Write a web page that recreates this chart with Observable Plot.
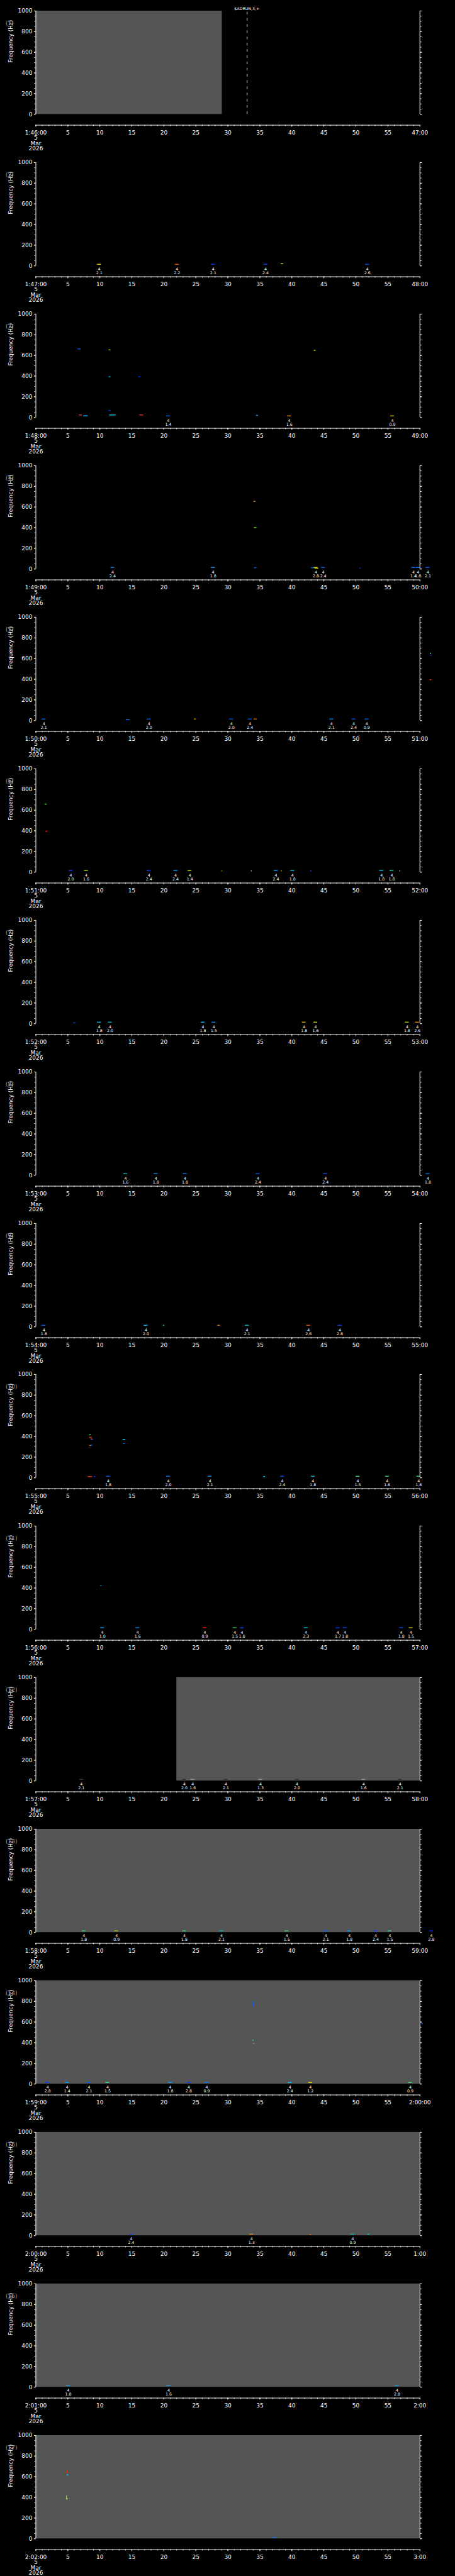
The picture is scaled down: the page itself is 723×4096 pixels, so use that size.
<!DOCTYPE html>
<html><head><meta charset="utf-8">
<script src="https://cdn.jsdelivr.net/npm/d3@7"></script>
<script src="https://cdn.jsdelivr.net/npm/@observablehq/plot@0.6"></script>
<style>
html,body{margin:0;padding:0;background:#000;}
#chart svg{display:block;}
</style>
</head><body><div id="chart"></div>
<script>
const S = 723 / 1024;
const PANEL_H = 4096 / 17;

// x-axis labels per panel (seconds 0..60 within each minute)
const startLabels = ["1:46:00","1:47:00","1:48:00","1:49:00","1:50:00","1:51:00","1:52:00","1:53:00","1:54:00","1:55:00","1:56:00","1:57:00","1:58:00","1:59:00","2:00:00","2:01:00","2:02:00"];
const endLabels = ["47:00","48:00","49:00","50:00","51:00","52:00","53:00","54:00","55:00","56:00","57:00","58:00","59:00","2:00:00","1:00","2:00","3:00"];
const dateLines = ["5", "Mar", "2026"];
const timeMajor = [0,5,10,15,20,25,30,35,40,45,50,55,60];
const timeMinor = d3.range(0, 61, 1);
const freqMajor = [0,200,400,600,800,1000];
const freqMinor = d3.range(0, 1001, 50);

// data gaps (grey fill): [panel, start s, end s]
const gaps = [[1,0,29.1],[12,22.0,60],[13,0,60],[14,0,60],[15,0,60],[16,0,60],[17,0,60]];

// marker line + annotation: [panel, t, label start t, text]
const markers = [[1, 33.0, 31.0, "$ADRUN,3,+"]];

// labelled events: [panel, t (s), value, bar colour]
const events = [
  [2,9.9,"2.1","#e8e000"],[2,22.05,"2.2","#ff5000"],[2,27.7,"2.1","#0040ff"],[2,35.9,"2.4","#0050ff"],[2,51.8,"2.6","#0050ff"],
  [3,20.7,"1.4","#0070ff"],[3,39.6,"1.6","#ff9000"],[3,55.7,"0.9","#e0c000"],
  [4,12.0,"2.4","#0080ff"],[4,27.7,"1.8","#00a0ff"],[4,43.75,"2.8","#e0e000"],[4,44.9,"2.4","#0060ff"],[4,59.0,"1.4","#0080ff"],[4,59.7,"1.8","#0080ff"],[4,61.25,"2.1","#0060ff"],
  [5,1.25,"2.1","#0080ff"],[5,17.67,"2.0","#0060ff"],[5,30.55,"2.0","#0060ff"],[5,33.45,"2.4","#0060ff"],[5,46.2,"2.1","#00a0ff"],[5,49.65,"2.4","#0060ff"],[5,51.7,"0.9","#0080ff"],
  [6,5.47,"2.0","#0040ff"],[6,7.87,"1.6","#a0e000"],[6,17.67,"2.4","#0040ff"],[6,21.84,"2.4","#00a0ff"],[6,24.06,"1.4","#c0e000"],[6,37.5,"2.4","#00a0ff"],[6,40.1,"1.8","#00c0ff"],[6,54.0,"1.8","#00c0ff"],[6,55.6,"1.8","#00d0c0"],
  [7,9.9,"1.8","#00c0ff"],[7,11.6,"2.0","#00c0e0"],[7,26.1,"1.8","#00c0ff"],[7,27.8,"1.5","#00a0ff"],[7,41.9,"1.8","#e0c000"],[7,43.7,"1.6","#e0e000"],[7,58.0,"1.8","#c0e000"],[7,59.6,"2.6","#ff9000"],
  [8,14.0,"1.6","#00d0c0"],[8,18.75,"1.8","#00a0ff"],[8,23.3,"1.8","#0080ff"],[8,34.7,"2.4","#0060ff"],[8,45.25,"2.4","#0060ff"],[8,61.25,"1.8","#0080ff"],
  [9,1.25,"1.8","#0060ff"],[9,17.2,"2.0","#00c0ff"],[9,33.0,"2.1","#00c0e0"],[9,42.6,"2.6","#ff5000"],[9,47.5,"2.8","#0040ff"],
  [10,11.3,"1.8","#0060ff"],[10,20.7,"2.0","#0080ff"],[10,27.2,"2.1","#00a0ff"],[10,38.5,"2.4","#0060ff"],[10,43.3,"1.8","#00c0e0"],[10,50.3,"1.5","#40e080"],[10,54.9,"1.6","#40e080"],[10,59.8,"1.8","#40e080"],
  [11,10.4,"1.0","#00c0ff"],[11,15.9,"1.6","#00a0ff"],[11,26.4,"0.9","#ff2000"],[11,31.1,"1.5","#40e080"],[11,32.2,"1.8","#0060ff"],[11,42.2,"2.3","#00e0ff"],[11,47.2,"1.7","#0040ff"],[11,48.3,"1.8","#0060ff"],[11,57.1,"1.8","#0060ff"],[11,58.6,"1.5","#e0e000"],
  [12,7.1,"2.1","#3a3a3a"],[12,23.2,"2.0","#2a2a2a"],[12,24.5,"1.6","#9a9a9a"],[12,29.7,"2.1","#2a2a2a"],[12,35.1,"1.3","#9a9a9a"],[12,40.8,"2.0","#2a2a2a"],[12,51.2,"1.6","#9a9a9a"],[12,56.9,"2.1","#2a2a2a"],
  [13,7.5,"1.8","#40e080"],[13,12.6,"0.9","#c0c000"],[13,23.2,"1.8","#40e080"],[13,29.0,"2.1","#00c0c0"],[13,39.2,"1.5","#40e080"],[13,45.3,"2.1","#0060ff"],[13,49.0,"1.8","#00a0ff"],[13,53.1,"2.4","#0040ff"],[13,55.3,"1.5","#40e0a0"],[13,61.8,"2.8","#0040ff"],
  [14,1.84,"2.8","#0040ff"],[14,4.9,"1.4","#00a0ff"],[14,8.3,"2.1","#0060ff"],[14,11.2,"1.5","#40e080"],[14,21.0,"1.8","#00a0ff"],[14,23.9,"2.8","#0040ff"],[14,26.7,"0.9","#0080ff"],[14,39.7,"2.4","#00c0ff"],[14,42.9,"1.2","#e0e000"],[14,58.5,"0.9","#40e080"],
  [15,14.9,"2.4","#0040ff"],[15,33.7,"1.3","#ff9000"],[15,49.5,"0.9","#00c0c0"],
  [16,5.06,"1.8","#00a0ff"],[16,20.75,"1.6","#00a0ff"],[16,56.45,"2.8","#00a0ff"]
];

// unlabelled spectral blips: [panel, t (s), freq (Hz), colour, duration (s)]
const blips = [
  [2,38.5,20,"#ffe000",0.4],
  [3,6.8,663,"#0060ff",0.5],[3,7.0,24,"#ff3030",0.5],[3,7.8,16,"#00c0ff",0.7],[3,11.55,654,"#d0e000",0.3],[3,11.55,393,"#00e0e0",0.3],[3,11.55,67,"#0040ff",0.3],[3,12.0,24,"#00e0ff",1.0],[3,16.2,393,"#0030ff",0.4],[3,16.5,24,"#ff3030",0.6],[3,34.6,20,"#00c0ff",0.3],[3,43.6,650,"#e0e000",0.3],
  [4,34.2,655,"#ff9000",0.3],[4,34.3,400,"#80ff40",0.4],[4,34.3,12,"#0080ff",0.3],[4,43.3,12,"#0080ff",0.5],[4,43.9,8,"#e0e000",0.6],[4,50.7,8,"#0040ff",0.2],
  [5,14.4,8,"#0080ff",0.6],[5,24.9,15,"#ffc000",0.3],[5,34.3,15,"#ff8000",0.5],[5,61.7,650,"#40ff80",0.2],[5,61.75,630,"#0040ff",0.2],[5,61.7,395,"#ff2000",0.3],
  [6,1.6,658,"#40ff40",0.3],[6,1.7,396,"#ff2000",0.3],[6,29.1,12,"#a0a000",0.15],[6,33.7,12,"#a0a0a0",0.15],[6,38.4,12,"#a0a000",0.15],[6,43.0,12,"#4040ff",0.15],[6,56.9,12,"#a0a0a0",0.15],
  [7,6.05,8,"#0060ff",0.3],
  [9,20.0,15,"#00e0ff",0.2],[9,28.6,15,"#ff8000",0.4],
  [10,8.5,420,"#40ff80",0.2],[10,8.5,392,"#ff3000",0.2],[10,8.8,374,"#0060ff",0.4],[10,8.5,312,"#ff8000",0.2],[10,8.7,315,"#0060ff",0.3],[10,8.5,12,"#ff4000",0.7],[10,9.2,12,"#0040ff",0.3],[10,13.8,372,"#00e0ff",0.4],[10,13.8,330,"#0060ff",0.3],[10,35.7,12,"#00e0ff",0.3],
  [11,10.2,425,"#00e0ff",0.15],
  [14,34.0,425,"#00ffff",0.15],[14,34.1,392,"#40ff80",0.15],[14,60.4,585,"#0040ff",0.3],
  [15,42.9,14,"#ff6000",0.3],[15,52.0,15,"#00e0e0",0.3],
  [17,4.9,650,"#ff2000",0.2],[17,5.0,618,"#00e0ff",0.3],[17,4.9,385,"#e0e000",0.3],[17,37.3,12,"#0080ff",0.6]
];

// vertical streaks: [panel, t (s), f1, f2, colour]
const streaks = [
  [10,8.65,365,395,"#ff3000"],
  [14,34.0,745,800,"#0060ff"],
  [17,4.8,380,415,"#80ff40"],[17,4.9,630,660,"#ff2000"]
];

const root = document.getElementById("chart");

function panel(i) {
  const p = i + 1;
  const ev = events.filter(d => d[0] === p);
  const bl = blips.filter(d => d[0] === p);
  const st = streaks.filter(d => d[0] === p);
  const gp = gaps.filter(d => d[0] === p);
  const mk = markers.filter(d => d[0] === p);
  const axisDy = 24.5 * S;
  return Plot.plot({
    width: 723,
    height: PANEL_H,
    marginTop: 24 * S,
    marginBottom: PANEL_H - 256.7 * S,
    marginLeft: 80 * S,
    marginRight: 723 - 944.3 * S,
    style: {background: "#000", color: "#fff", fontFamily: "'DejaVu Sans', sans-serif", fontSize: "9px", overflow: "visible"},
    x: {domain: [0, 60], axis: null},
    y: {domain: [0, 1000], axis: null},
    color: {type: "identity"},
    marks: [
      Plot.rect(gp, {x1: d => d[1], x2: d => d[2], y1: 0, y2: 1000, fill: "#555555"}),
      Plot.ruleY(bl, {x1: d => d[1] - d[4] / 2, x2: d => d[1] + d[4] / 2, y: d => d[2], stroke: d => d[3], strokeWidth: 1.3}),
      Plot.ruleX(st, {x: d => d[1], y1: d => d[2], y2: d => d[3], stroke: d => d[4], strokeWidth: 1.2}),
      Plot.ruleY(ev, {x1: d => d[1] - 0.3, x2: d => d[1] + 0.3, y: 15, stroke: d => d[3], strokeWidth: 1.3}),
      Plot.ruleX(mk, {x: d => d[1], y1: 0, y2: 990, stroke: "#fff", strokeWidth: 1, strokeDasharray: "4.2,5.7"}),
      Plot.text(mk, {x: d => d[2], frameAnchor: "top", text: d => d[3], textAnchor: "start", dy: (15.7 - 24) * S, fontSize: 6.3, fill: "#fff"}),
      // event labels
      Plot.text(ev, {x: d => d[1], y: 0, text: () => "4", dy: 6.8 * S, fontSize: 6.3, fill: "#fff"}),
      Plot.text(ev, {x: d => d[1], y: 0, text: d => d[2], dy: 16.2 * S, fontSize: 6.3, fill: "#fff"}),
      // frame axes
      Plot.ruleX([0, 60], {y1: 0, y2: 1000, stroke: "#fff", strokeWidth: 1}),
      Plot.axisY(freqMajor, {anchor: "left", tickSize: 3.7 * S, tickPadding: 2.9, tickFormat: d => String(d), fontSize: 9, stroke: "#fff", fill: "#fff"}),
      Plot.axisY(freqMinor, {anchor: "left", tickSize: 2.6 * S, stroke: "#fff", fill: "none"}),
      Plot.axisY(freqMajor, {anchor: "right", tickSize: 3.7 * S, stroke: "#fff", fill: "none"}),
      Plot.axisY(freqMinor, {anchor: "right", tickSize: 2.6 * S, stroke: "#fff", fill: "none"}),
      Plot.ruleY([0], {x1: 0, x2: 60, dy: axisDy, stroke: "#fff", strokeWidth: 1}),
      Plot.axisX(timeMajor, {anchor: "bottom", dy: axisDy, tickSize: 4 * S, tickPadding: 6.1, lineHeight: 0.944, fontSize: 9, stroke: "#fff", fill: "#fff",
        tickFormat: d => d === 0 ? [startLabels[i], ...dateLines].join("\n") : d === 60 ? endLabels[i] : String(d)}),
      Plot.axisX(timeMinor, {anchor: "bottom", dy: axisDy, tickSize: 2.6 * S, stroke: "#fff", fill: "none"}),
      // titles
      Plot.text(["Frequency (Hz)"], {frameAnchor: "left", rotate: -90, dx: (23.3 - 80) * S, fontSize: 9, fill: "#fff"}),
      Plot.text([`(${p})`], {frameAnchor: "top-left", textAnchor: "start", dx: (12 - 80) * S, dy: 23 * S, fontSize: 9, fill: "#9a9a9a"})
    ]
  });
}

for (let i = 0; i < startLabels.length; i++) root.appendChild(panel(i));
</script>
</body></html>
